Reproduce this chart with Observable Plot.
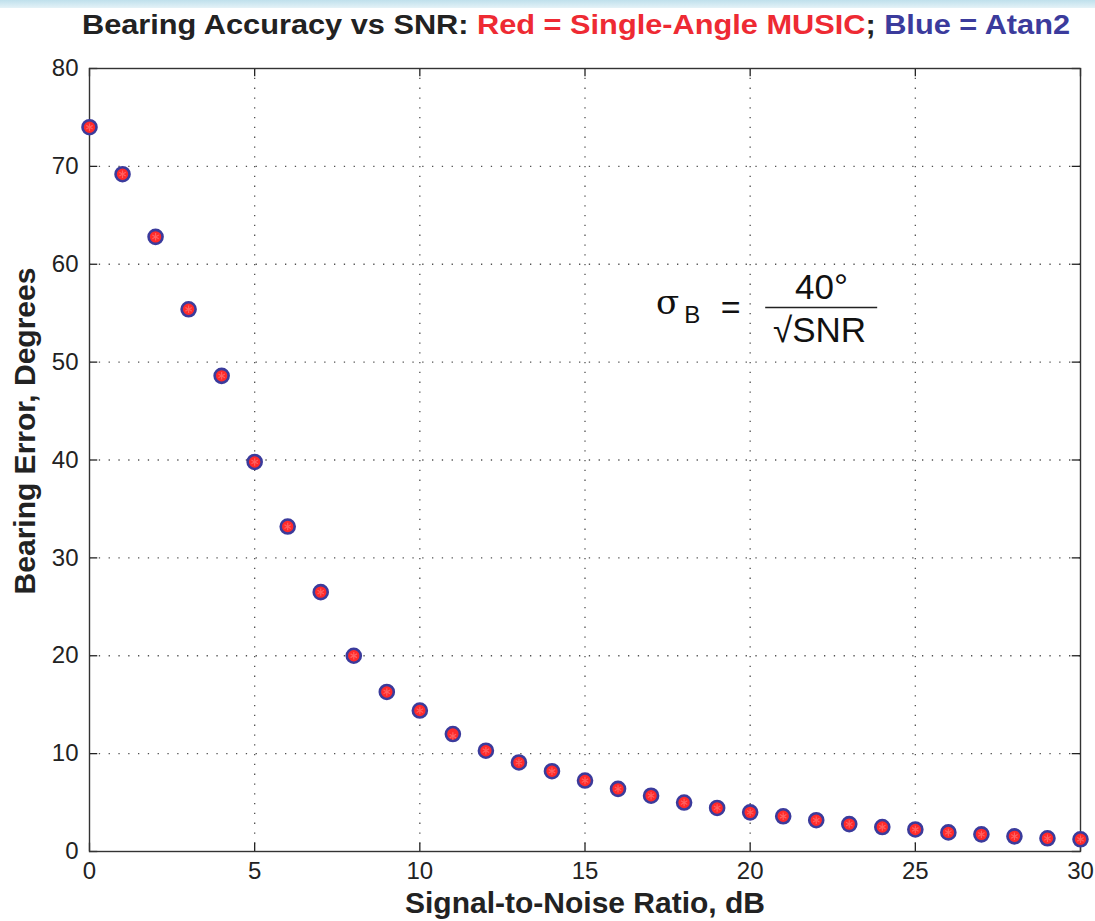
<!DOCTYPE html>
<html><head><meta charset="utf-8">
<script src="https://cdn.jsdelivr.net/npm/d3@7"></script>
<script src="https://cdn.jsdelivr.net/npm/@observablehq/plot@0.6"></script>
<style>
html,body{margin:0;padding:0;background:#fff;}
#band{height:8px;background:linear-gradient(#bfe0ec,#e4f2f7);}
#title{height:34px;font-family:"Liberation Sans",Arial,sans-serif;font-weight:bold;font-size:28px;line-height:34px;color:#222;white-space:nowrap;position:relative;overflow:visible;}
#title span.inner{position:absolute;left:82px;top:0;transform-origin:0 50%;display:inline-block;}
#title .r{color:#ee2a33}#title .b{color:#3b3b9c}
#chart svg{display:block;font-family:"Liberation Sans",Arial,sans-serif;}
#chart svg g[aria-label="x-axis tick label"], #chart svg g[aria-label="y-axis tick label"]{font-size:24px !important;}
</style></head>
<body>
<div id="band"></div>
<div id="title"><span class="inner" id="tin">Bearing Accuracy vs SNR: <span class="r">Red = Single-Angle MUSIC</span>; <span class="b">Blue = Atan2</span></span></div>
<div id="chart"></div>
<script>
const snr = [0,1,2,3,4,5,6,7,8,9,10,11,12,13,14,15,16,17,18,19,20,21,22,23,24,25,26,27,28,29,30];
const atan2Err = [74.0,69.2,62.8,55.4,48.6,39.8,33.2,26.5,20.0,16.3,14.4,12.0,10.3,9.1,8.2,7.25,6.4,5.7,5.0,4.45,4.0,3.6,3.2,2.8,2.5,2.25,1.95,1.75,1.55,1.35,1.25];
const musicErr = [74.0,69.2,62.8,55.4,48.6,39.8,33.2,26.5,20.0,16.3,14.4,11.8,10.3,9.1,8.2,7.25,6.4,5.7,5.0,4.45,4.0,3.6,3.2,2.8,2.5,2.25,1.95,1.75,1.55,1.35,1.25];
const xTicks = [0,5,10,15,20,25,30];
const yTicks = [0,10,20,30,40,50,60,70,80];
const xLabel = "Signal-to-Noise Ratio, dB";
const yLabel = "Bearing Error, Degrees";
// formula annotation (data coordinates)
const formulaSigma = [{x:17.5, y:56.0, t:"σ"}];
const formulaSub = [{x:18.25, y:54.8, t:"B"}];
const formulaEq = [{x:19.41, y:55.5, t:"="}];
const formulaNum = [{x:22.16, y:57.57, t:"40°"}];
const formulaBar = [{x1:20.47, x2:23.86, y:55.58}];
const formulaDen = [{x:22.1, y:53.2, t:"√SNR"}];

const blueData = snr.map((s,i)=>({snr:s, err:atan2Err[i]}));
const redData = snr.map((s,i)=>({snr:s, err:musicErr[i]}));

const grid = {stroke:"#333", strokeOpacity:0.85, strokeWidth:1.3, strokeDasharray:"1.3,8.5"};
const plot = Plot.plot({
  width:1095, height:879,
  marginTop:26, marginLeft:89, marginRight:15, marginBottom:70,
  x:{domain:[0,30], ticks:xTicks},
  y:{domain:[0,80], ticks:yTicks},
  style:{fontSize:"24px", color:"#222", background:"transparent"},
  marks:[
    Plot.ruleX(xTicks.filter(d=>d>0&&d<30), {...grid}),
    Plot.ruleY(yTicks.filter(d=>d>0&&d<80), {...grid}),
    Plot.ruleX(xTicks, {y1:0, y2:0.85, stroke:"#222", strokeWidth:1.3}),
    Plot.ruleX(xTicks, {y1:80, y2:79.15, stroke:"#222", strokeWidth:1.3}),
    Plot.ruleY(yTicks, {x1:0, x2:0.25, stroke:"#222", strokeWidth:1.3}),
    Plot.ruleY(yTicks, {x1:30, x2:29.75, stroke:"#222", strokeWidth:1.3}),
    Plot.frame({stroke:"#333", strokeWidth:1.4}),
    Plot.axisX({ticks:xTicks, tickSize:0, tickPadding:10, label:null, fontSize:24}),
    Plot.axisY({ticks:yTicks, tickSize:0, tickPadding:11, label:null, fontSize:24}),
    Plot.text([xLabel], {frameAnchor:"bottom", lineAnchor:"middle", textAnchor:"middle", dy:52, fontSize:30, fontWeight:"bold", fill:"#222"}),
    Plot.text([yLabel], {frameAnchor:"left", textAnchor:"middle", lineAnchor:"middle", dx:-64, dy:-29, rotate:-90, fontSize:30, fontWeight:"bold", fill:"#222"}),
    Plot.dot(blueData, {x:"snr", y:"err", r:7, fill:"#ff2a2a", stroke:"#3b3b9c", strokeWidth:2.6}),
    Plot.dot(redData, {x:"snr", y:"err", r:3.5, symbol:"asterisk", stroke:"#ff6060", strokeWidth:1.2}),
    Plot.text(formulaSigma, {x:"x", y:"y", text:"t", fontSize:34, fill:"#111", fontFamily:"DejaVu Serif"}),
    Plot.text(formulaSub, {x:"x", y:"y", text:"t", fontSize:24, fill:"#111"}),
    Plot.text(formulaEq, {x:"x", y:"y", text:"t", fontSize:34, fill:"#111"}),
    Plot.text(formulaNum, {x:"x", y:"y", text:"t", fontSize:35, fill:"#111"}),
    Plot.ruleY(formulaBar, {x1:"x1", x2:"x2", y:"y", stroke:"#222", strokeWidth:1.6}),
    Plot.text(formulaDen, {x:"x", y:"y", text:"t", fontSize:35, fill:"#111"})
  ]
});
document.getElementById("chart").appendChild(plot);
// stretch title horizontally to span the same width as the original
const tin = document.getElementById("tin");
const w = tin.getBoundingClientRect().width;
tin.style.transform = `scaleX(${988 / w})`;
</script>
</body></html>
